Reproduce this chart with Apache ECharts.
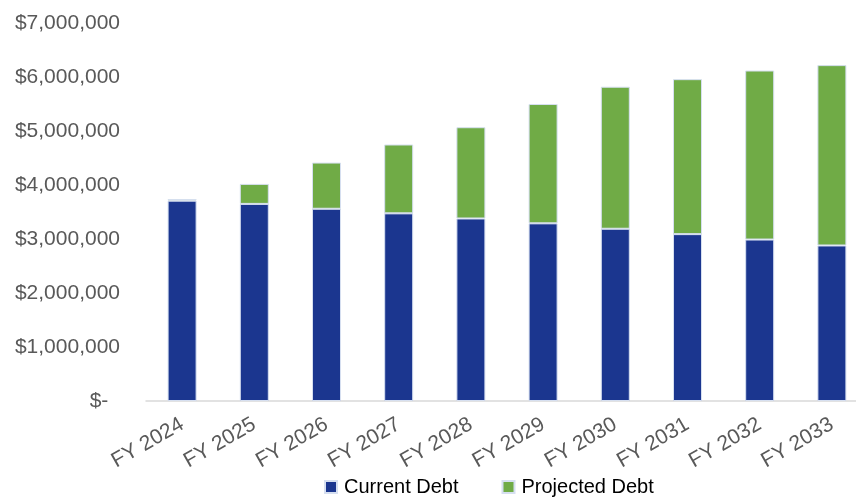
<!DOCTYPE html>
<html>
<head>
<meta charset="utf-8">
<script src="https://cdn.jsdelivr.net/npm/echarts@6/dist/echarts.min.js"></script>
<style>
  html, body { margin: 0; padding: 0; background: #ffffff; overflow: hidden; width: 856px; height: 498px; }
  #chart { width: 880px; height: 498px; }
</style>
</head>
<body>
<div id="chart"></div>
<script>
const categories = ['FY 2024', 'FY 2025', 'FY 2026', 'FY 2027', 'FY 2028', 'FY 2029', 'FY 2030', 'FY 2031', 'FY 2032', 'FY 2033'];
const currentDebt = [3710000, 3650000, 3560000, 3475000, 3380000, 3290000, 3190000, 3090000, 2990000, 2880000];
const projectedDebt = [30000, 370000, 855000, 1275000, 1690000, 2210000, 2630000, 2870000, 3130000, 3340000];
const yTicks = { min: 0, max: 7000000, interval: 1000000 };

const chart = echarts.init(document.getElementById('chart'), null, { renderer: 'canvas' });
const fontFamily = '"Liberation Sans", Arial, sans-serif';
chart.setOption({
  animation: false,
  backgroundColor: '#ffffff',
  grid: { left: 146, width: 722, top: 23, height: 378 },
  legend: {
    data: ['Current Debt', 'Projected Debt'],
    left: 324,
    top: 477,
    icon: 'rect',
    itemWidth: 12,
    itemHeight: 12,
    itemGap: 43,
    textStyle: { color: '#000000', fontSize: 20, fontFamily: fontFamily, padding: [0, 0, 0, 2], lineHeight: 20 },
    padding: 0
  },
  xAxis: {
    type: 'category',
    data: categories,
    axisLine: { show: true, lineStyle: { color: '#D9D9D9', width: 1.5 } },
    axisTick: { show: false },
    axisLabel: { rotate: 30, color: '#595959', fontSize: 21, fontFamily: fontFamily, margin: 22, interval: 0 }
  },
  yAxis: {
    type: 'value',
    min: yTicks.min,
    max: yTicks.max,
    interval: yTicks.interval,
    splitLine: { show: false },
    axisLine: { show: false },
    axisTick: { show: false },
    axisLabel: {
      color: '#595959', fontSize: 21, fontFamily: fontFamily, margin: 26,
      formatter: function (v) { return v === 0 ? '$-  ' : '$' + v.toLocaleString('en-US'); }
    }
  },
  series: [
    {
      name: 'Current Debt', type: 'bar', stack: 'debt', data: currentDebt, barWidth: 29,
      itemStyle: { color: '#1B368F', borderColor: '#D6DFF0', borderWidth: 1 }
    },
    {
      name: 'Projected Debt', type: 'bar', stack: 'debt', data: projectedDebt, barWidth: 29,
      itemStyle: { color: '#70AB46', borderColor: '#D6DFF0', borderWidth: 1 }
    }
  ]
});
</script>
</body>
</html>
